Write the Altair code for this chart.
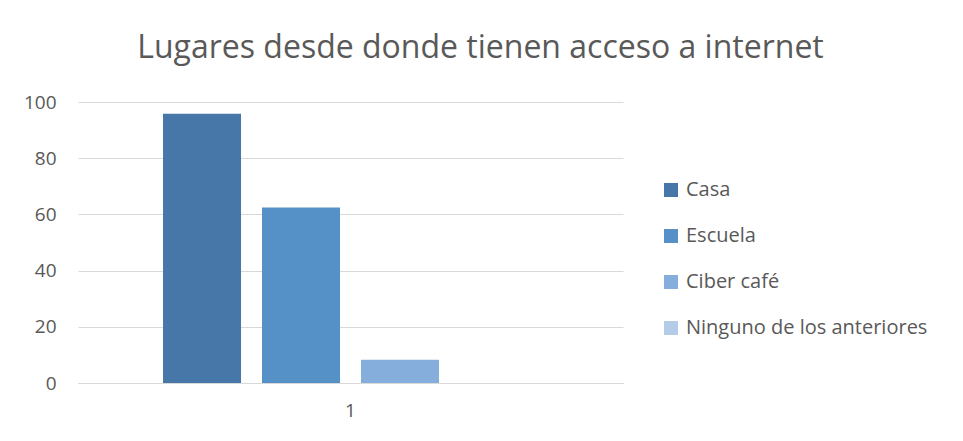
import altair as alt
import pandas as pd

categoria = ["1", "1", "1", "1"]
series = ["Casa", "Escuela", "Ciber café", "Ninguno de los anteriores"]
valores = [95.8, 62.5, 8.3, 0.0]
colores = ["#4677A8", "#5591C7", "#85AEDC", "#B4CCE8"]

df = pd.DataFrame({"cat": categoria, "serie": series, "valor": valores})

FONT = "Open Sans"
GRAY = "#595959"

chart = (
    alt.Chart(df)
    .mark_bar()
    .encode(
        x=alt.X(
            "cat:N",
            title=None,
            scale=alt.Scale(paddingInner=0, paddingOuter=0.2267),
            axis=alt.Axis(
                labelAngle=0,
                labelFontSize=19,
                labelFont=FONT,
                labelColor=GRAY,
                labelPadding=18,
                ticks=False,
                domainColor="#D9D9D9",
                domainWidth=1,
                grid=False,
            ),
        ),
        xOffset=alt.XOffset(
            "serie:N",
            sort=series,
            scale=alt.Scale(paddingInner=0.212, paddingOuter=0),
        ),
        y=alt.Y(
            "valor:Q",
            title=None,
            scale=alt.Scale(domain=[0, 100], nice=False),
            axis=alt.Axis(
                values=[0, 20, 40, 60, 80, 100],
                labelFontSize=19,
                labelFont=FONT,
                labelColor=GRAY,
                labelPadding=22,
                ticks=False,
                domain=False,
                gridColor="#D9D9D9",
                gridWidth=1,
            ),
        ),
        color=alt.Color(
            "serie:N",
            sort=series,
            scale=alt.Scale(domain=series, range=colores),
            legend=alt.Legend(
                title=None,
                orient="none",
                legendX=583,
                legendY=78,
                symbolType="square",
                symbolSize=196,
                symbolStrokeWidth=0,
                labelFontSize=20,
                labelFont=FONT,
                labelColor=GRAY,
                labelOffset=5,
                labelLimit=400,
                rowPadding=26,
            ),
        ),
    )
    .properties(
        width=545,
        height=281,
        title=alt.TitleParams(
            "Lugares desde donde tienen acceso a internet",
            font=FONT,
            fontSize=32,
            fontWeight="normal",
            color=GRAY,
            anchor="middle",
            dx=130,
            offset=28,
        ),
        padding={"left": 70, "top": 94, "right": 332, "bottom": 50},
        autosize=alt.AutoSizeParams(type="none"),
    )
    .configure(background="white")
    .configure_view(stroke="transparent", strokeWidth=0)
)

chart.save("out.html", embed_options={"renderer": "svg", "actions": False})
